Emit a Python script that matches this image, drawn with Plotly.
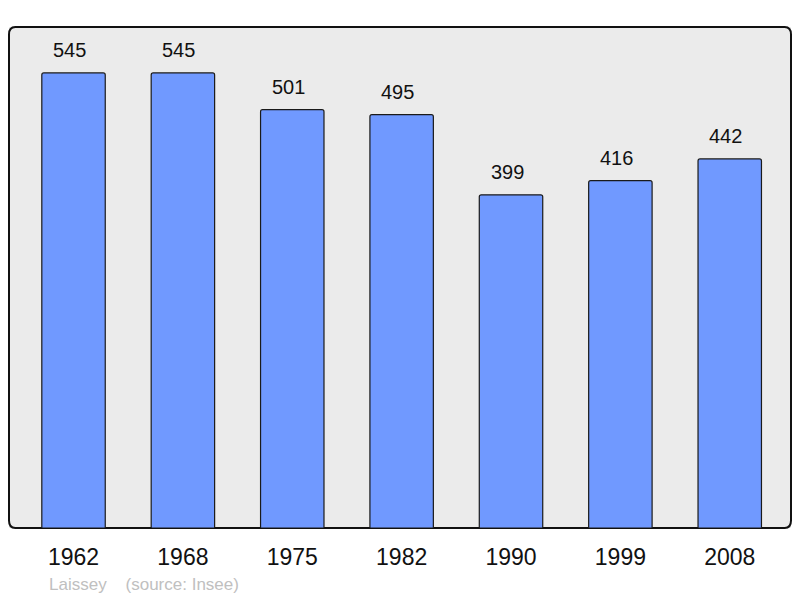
import plotly.graph_objects as go

years = ["1962", "1968", "1975", "1982", "1990", "1999", "2008"]
population = [545, 545, 501, 495, 399, 416, 442]
commune = "Laissey"
source = "(source: Insee)"

fig = go.Figure()
fig.add_trace(go.Bar(
    x=years,
    y=population,
    width=0.58,
    marker=dict(color="#7099ff", line=dict(color="#1a1a1a", width=1.2), cornerradius=2),
    hoverinfo="x+y",
))

# value labels above each bar (category index on the category axis)
for i, val in enumerate(population):
    fig.add_annotation(
        x=i, y=val, text=str(val), showarrow=False,
        xref="x", yref="y",
        yanchor="bottom", yshift=10, xshift=-4,
        font=dict(size=20, color="#111111"),
    )

fig.add_annotation(
    xref="paper", yref="paper", x=0.048, y=-0.112,
    xanchor="left", yanchor="middle", showarrow=False,
    text=commune + "&nbsp;&nbsp;&nbsp;&nbsp;" + source,
    font=dict(size=17, color="#c0c0c0"),
)

# rounded frame around the plot area
fig.add_shape(
    type="path", xref="paper", yref="paper",
    path="M 0,0.985 Q 0,1 0.008,1 L 0.992,1 Q 1,1 1,0.985 "
         "L 1,0.015 Q 1,0 0.992,0 L 0.008,0 Q 0,0 0,0.015 Z",
    line=dict(color="#111111", width=2), layer="below",
)

# the page body adds an 8px offset, so the figure is sized to fill the rest
fig.update_layout(
    width=792, height=590,
    margin=dict(l=1, r=9, t=19, b=70),
    paper_bgcolor="white",
    plot_bgcolor="#ebebeb",
    font=dict(family="Liberation Sans, Arial, sans-serif"),
    showlegend=False,
    xaxis=dict(
        type="category",
        range=[-0.59, 6.56], showgrid=False, zeroline=False, showline=False,
        ticks="outside", ticklen=8, tickcolor="rgba(0,0,0,0)",
        tickfont=dict(size=23, color="#111111"),
    ),
    yaxis=dict(range=[0, 600], visible=False),
)

fig.write_html("out.html")
